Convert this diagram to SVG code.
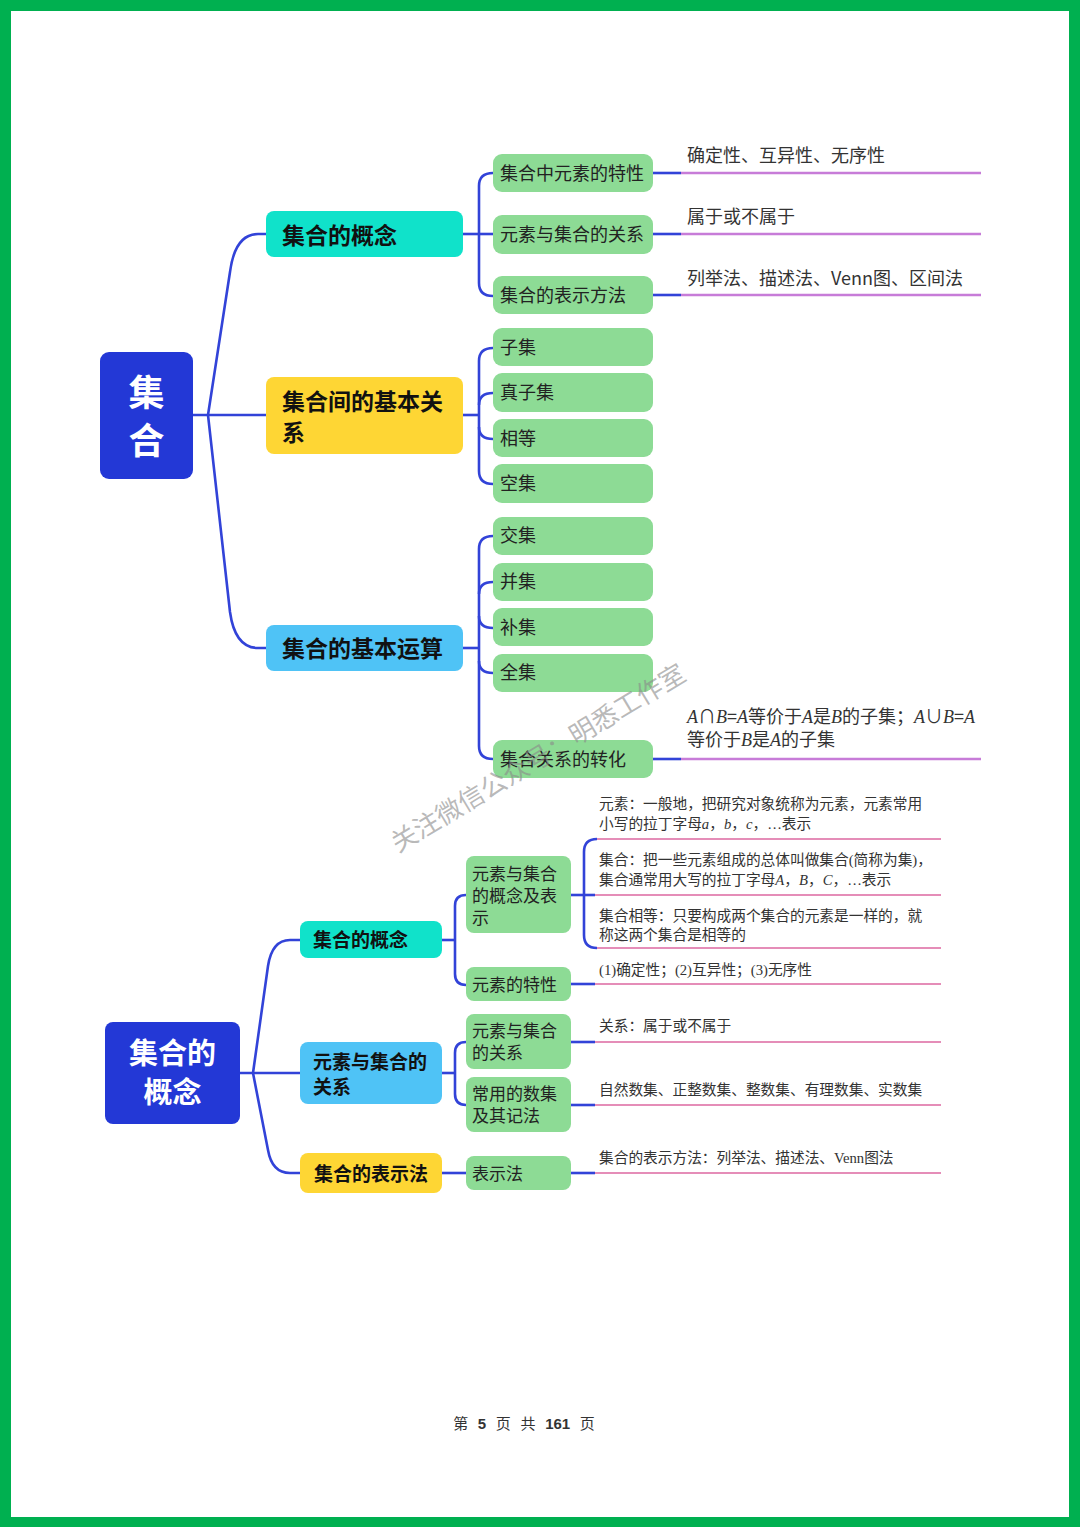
<svg xmlns="http://www.w3.org/2000/svg" width="1080" height="1527" viewBox="0 0 1080 1527">
<style>
.cjk{font-family:"Noto Sans CJK SC","Liberation Sans",sans-serif}
.root{fill:#2338D6}
.rt{fill:#fff;font-weight:bold;font-family:"Noto Sans CJK SC",sans-serif}
.teal{fill:#10E2CA}
.yel{fill:#FED634}
.lb{fill:#4FC3F6}
.grn{fill:#8DDB95}
.l1t{fill:#111;font-weight:bold;font-family:"Noto Sans CJK SC",sans-serif}
.l2t{fill:#222;font-family:"Noto Sans CJK SC",sans-serif}
.rtx{fill:#333;font-family:"Noto Sans CJK SC",sans-serif;font-size:18px}
.stx{fill:#333;font-family:"Liberation Serif","Noto Sans CJK SC",serif;font-size:14.7px}
.b{fill:none;stroke:#3243D8;stroke-width:2.6}
.p{fill:none;stroke:#C77CD8;stroke-width:2.6}
.pk{fill:none;stroke:#E58DB8;stroke-width:2.2}
.it{font-family:"Liberation Serif",serif;font-style:italic}
</style>
<rect x="0" y="0" width="1080" height="1527" fill="#00B050"/>
<rect x="11" y="11" width="1058" height="1506" fill="#ffffff"/>

<g id="connectors">
<!-- top map -->
<path class="b" d="M193,415 H266"/>
<path class="b" d="M208,415 L230,272 Q235,234 258,234 H266"/>
<path class="b" d="M208,415 L230,612 Q235,648 258,648 H266"/>
<path class="b" d="M463,234 H493"/>
<path class="b" d="M493,173 Q479,173 479,186 V283 Q479,296 493,296"/>
<path class="b" d="M463,415 H479"/>
<path class="b" d="M493,348 Q479,348 479,361 V471 Q479,484 493,484"/>
<path class="b" d="M479,405 Q479,393 493,393"/>
<path class="b" d="M479,427 Q479,439 493,439"/>
<path class="b" d="M463,648 H479"/>
<path class="b" d="M493,536 Q479,536 479,549 V746 Q479,759 493,759"/>
<path class="b" d="M479,594 Q479,582 493,582"/>
<path class="b" d="M479,616 Q479,628 493,628"/>
<path class="b" d="M479,661 Q479,673 493,673"/>
<path class="b" d="M653,173 H681"/><path class="p" d="M681,173 H981"/>
<path class="b" d="M653,234 H681"/><path class="p" d="M681,234 H981"/>
<path class="b" d="M653,295 H681"/><path class="p" d="M681,295 H981"/>
<path class="b" d="M653,759 H681"/><path class="p" d="M681,759 H981"/>
<!-- bottom map -->
<path class="b" d="M240,1073 H300"/>
<path class="b" d="M253,1073 L268,966 Q272,940 290,940 H300"/>
<path class="b" d="M253,1073 L268,1150 Q272,1173 290,1173 H300"/>
<path class="b" d="M442,940 H455"/>
<path class="b" d="M466,895 Q455,895 455,906 V974 Q455,985 466,985"/>
<path class="b" d="M442,1073 H455"/>
<path class="b" d="M466,1042 Q455,1042 455,1053 V1094 Q455,1105 466,1105"/>
<path class="b" d="M442,1173 H466"/>
<path class="b" d="M571,895 H595"/>
<path class="b" d="M597,839 Q584,839 584,852 V935 Q584,948 597,948"/>
<path class="pk" d="M597,839 H941"/>
<path class="pk" d="M595,895 H941"/>
<path class="pk" d="M597,948 H941"/>
<path class="b" d="M571,984 H595"/><path class="pk" d="M595,984 H941"/>
<path class="b" d="M571,1042 H595"/><path class="pk" d="M595,1042 H941"/>
<path class="b" d="M571,1105 H595"/><path class="pk" d="M595,1105 H941"/>
<path class="b" d="M571,1173 H595"/><path class="pk" d="M595,1173 H941"/>
</g>

<!-- top map nodes -->
<g id="root1">
<rect class="root" x="100" y="352" width="93" height="127" rx="9"/>
<text class="rt" x="146.5" y="406" font-size="36" text-anchor="middle">集</text>
<text class="rt" x="146.5" y="454" font-size="36" text-anchor="middle">合</text>
</g>
<g id="n-concept">
<rect class="teal" x="266" y="211" width="197" height="46" rx="8"/>
<text class="l1t" x="282" y="244" font-size="23">集合的概念</text>
</g>
<g id="n-relation">
<rect class="yel" x="266" y="377" width="197" height="77" rx="8"/>
<text class="l1t" x="282" y="410" font-size="23">集合间的基本关</text>
<text class="l1t" x="282" y="441" font-size="23">系</text>
</g>
<g id="n-ops">
<rect class="lb" x="266" y="625" width="197" height="46" rx="8"/>
<text class="l1t" x="282" y="657" font-size="23">集合的基本运算</text>
</g>

<g id="n-feature"><rect class="grn" x="493" y="154" width="160" height="38" rx="9"/><text class="l2t" x="500" y="180" font-size="18">集合中元素的特性</text></g>
<g id="n-elemrel"><rect class="grn" x="493" y="215" width="160" height="39" rx="9"/><text class="l2t" x="500" y="241" font-size="18">元素与集合的关系</text></g>
<g id="n-repr"><rect class="grn" x="493" y="276" width="160" height="38" rx="9"/><text class="l2t" x="500" y="302" font-size="18">集合的表示方法</text></g>
<g id="n-subset"><rect class="grn" x="493" y="328" width="160" height="38" rx="9"/><text class="l2t" x="500" y="354" font-size="18">子集</text></g>
<g id="n-proper"><rect class="grn" x="493" y="373" width="160" height="39" rx="9"/><text class="l2t" x="500" y="399" font-size="18">真子集</text></g>
<g id="n-equal"><rect class="grn" x="493" y="419" width="160" height="38" rx="9"/><text class="l2t" x="500" y="445" font-size="18">相等</text></g>
<g id="n-empty"><rect class="grn" x="493" y="464" width="160" height="39" rx="9"/><text class="l2t" x="500" y="490" font-size="18">空集</text></g>
<g id="n-inter"><rect class="grn" x="493" y="517" width="160" height="38" rx="9"/><text class="l2t" x="500" y="542" font-size="18">交集</text></g>
<g id="n-union"><rect class="grn" x="493" y="563" width="160" height="38" rx="9"/><text class="l2t" x="500" y="588" font-size="18">并集</text></g>
<g id="n-compl"><rect class="grn" x="493" y="608" width="160" height="38" rx="9"/><text class="l2t" x="500" y="634" font-size="18">补集</text></g>
<g id="n-univ"><rect class="grn" x="493" y="654" width="160" height="38" rx="9"/><text class="l2t" x="500" y="679" font-size="18">全集</text></g>
<g id="n-transform"><rect class="grn" x="493" y="740" width="160" height="38" rx="9"/><text class="l2t" x="500" y="766" font-size="18">集合关系的转化</text></g>

<g id="t-top">
<text class="rtx" x="687" y="162">确定性、互异性、无序性</text>
<text class="rtx" x="687" y="223">属于或不属于</text>
<text class="rtx" x="687" y="285">列举法、描述法、Venn图、区间法</text>
<text class="rtx" x="687" y="723" font-size="17"><tspan class="it">A</tspan>∩<tspan class="it">B</tspan>=<tspan class="it">A</tspan>等价于<tspan class="it">A</tspan>是<tspan class="it">B</tspan>的子集；<tspan class="it">A</tspan>∪<tspan class="it">B</tspan>=<tspan class="it">A</tspan></text>
<text class="rtx" x="687" y="746" font-size="17">等价于<tspan class="it">B</tspan>是<tspan class="it">A</tspan>的子集</text>
</g>

<!-- bottom map nodes -->
<g id="root2">
<rect class="root" x="105" y="1022" width="135" height="102" rx="8"/>
<text class="rt" x="172.5" y="1064" font-size="29" text-anchor="middle">集合的</text>
<text class="rt" x="172.5" y="1103" font-size="29" text-anchor="middle">概念</text>
</g>
<g id="b-concept"><rect class="teal" x="300" y="921" width="142" height="37" rx="8"/><text class="l1t" x="313" y="947" font-size="19">集合的概念</text></g>
<g id="b-elemrel"><rect class="lb" x="300" y="1042" width="142" height="62" rx="8"/><text class="l1t" x="313" y="1069" font-size="19">元素与集合的</text><text class="l1t" x="313" y="1094" font-size="19">关系</text></g>
<g id="b-repr"><rect class="yel" x="300" y="1153" width="142" height="40" rx="8"/><text class="l1t" x="314" y="1181" font-size="19">集合的表示法</text></g>

<g id="c-def"><rect class="grn" x="466" y="856" width="105" height="77" rx="8"/><text class="l2t" x="472" y="880" font-size="17">元素与集合</text><text class="l2t" x="472" y="902" font-size="17">的概念及表</text><text class="l2t" x="472" y="924" font-size="17">示</text></g>
<g id="c-feat"><rect class="grn" x="466" y="967" width="105" height="34" rx="8"/><text class="l2t" x="472" y="991" font-size="17">元素的特性</text></g>
<g id="c-rel"><rect class="grn" x="466" y="1014" width="105" height="55" rx="8"/><text class="l2t" x="472" y="1037" font-size="17">元素与集合</text><text class="l2t" x="472" y="1059" font-size="17">的关系</text></g>
<g id="c-numsets"><rect class="grn" x="466" y="1077" width="105" height="55" rx="8"/><text class="l2t" x="472" y="1100" font-size="17">常用的数集</text><text class="l2t" x="472" y="1122" font-size="17">及其记法</text></g>
<g id="c-method"><rect class="grn" x="466" y="1156" width="105" height="34" rx="8"/><text class="l2t" x="472" y="1180" font-size="17">表示法</text></g>

<g id="t-bottom">
<text class="stx" x="599" y="809">元素：一般地，把研究对象统称为元素，元素常用</text>
<text class="stx" x="599" y="829">小写的拉丁字母<tspan font-style="italic">a</tspan>，<tspan font-style="italic">b</tspan>，<tspan font-style="italic">c</tspan>，…表示</text>
<text class="stx" x="599" y="865">集合：把一些元素组成的总体叫做集合(简称为集)，</text>
<text class="stx" x="599" y="885">集合通常用大写的拉丁字母<tspan font-style="italic">A</tspan>，<tspan font-style="italic">B</tspan>，<tspan font-style="italic">C</tspan>，…表示</text>
<text class="stx" x="599" y="921">集合相等：只要构成两个集合的元素是一样的，就</text>
<text class="stx" x="599" y="940">称这两个集合是相等的</text>
<text class="stx" x="599" y="975">(1)确定性；(2)互异性；(3)无序性</text>
<text class="stx" x="599" y="1031">关系：属于或不属于</text>
<text class="stx" x="599" y="1095">自然数集、正整数集、整数集、有理数集、实数集</text>
<text class="stx" x="599" y="1163">集合的表示方法：列举法、描述法、Venn图法</text>
</g>

<text x="398" y="853" transform="rotate(-31 398 853)" font-size="26" fill="#8a8a8a" fill-opacity="0.6" font-family="Noto Sans CJK SC, sans-serif">关注微信公众号：明悉工作室</text>

<text x="524" y="1429" font-size="15" fill="#333" text-anchor="middle" word-spacing="5.5" font-family="Liberation Sans, Noto Sans CJK SC, sans-serif">第 <tspan font-weight="bold">5</tspan> 页 共 <tspan font-weight="bold">161</tspan> 页</text>
</svg>
